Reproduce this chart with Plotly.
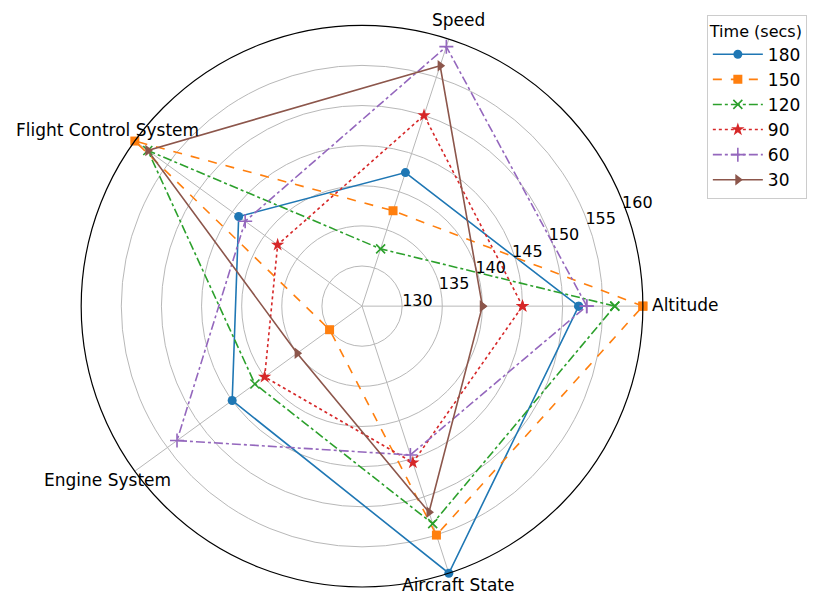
import plotly.graph_objects as go

categories = ["Altitude", "Speed", "Flight Control System", "Engine System", "Aircraft State"]
series_names = ["180", "150", "120", "90", "60", "30"]
values_180 = [152, 142.5, 144, 145, 160]
values_150 = [160, 137.5, 160, 130, 155]
values_120 = [156.5, 132.5, 158, 141.5, 153.5]
values_90 = [145, 150, 138, 140, 145.5]
values_60 = [153, 159, 143, 153.5, 144.5]
values_30 = [140, 156.5, 158, 135, 152]
radial_ticks = [130, 135, 140, 145, 150, 155, 160]

all_values = [values_180, values_150, values_120, values_90, values_60, values_30]
colors = ["#1f77b4", "#ff7f0e", "#2ca02c", "#d62728", "#9467bd", "#8c564b"]
dashes = ["solid", "dash", "dashdot", "dot", "dashdot", "solid"]
symbols = ["circle", "square", "x-thin", "star", "cross-thin", "triangle-right"]
sizes = [9, 9, 9, 10, 10, 10]

fig = go.Figure()
for name, vals, c, d, s, sz in zip(series_names, all_values, colors, dashes, symbols, sizes):
    thin = s.endswith("thin")
    fig.add_trace(go.Scatterpolar(
        r=vals + [vals[0]],
        theta=categories + [categories[0]],
        mode="lines+markers",
        name=name,
        line=dict(color=c, width=1.6, dash=d),
        marker=dict(symbol=s, size=sz, color=c,
                    line=dict(color=c, width=1.6 if thin else 0)),
    ))

# category labels placed like the reference (outside the circle)
label_pos = {
    "Altitude": (651, 305, "left"),
    "Speed": (458, 20, "center"),
    "Flight Control System": (107, 130, "center"),
    "Engine System": (107, 480, "center"),
    "Aircraft State": (458, 585, "center"),
}
W, H = 820, 595
for cat in categories:
    px, py, anchor = label_pos[cat]
    fig.add_annotation(x=px / W, y=1 - py / H, xref="paper", yref="paper",
                       text=cat, showarrow=False, xanchor=anchor, yanchor="middle",
                       borderpad=0, font=dict(size=17, color="black"))

fig.update_layout(
    width=W, height=H,
    margin=dict(l=0, r=0, t=0, b=0),
    paper_bgcolor="white",
    font=dict(family="DejaVu Sans", size=14, color="black"),
    polar=dict(
        domain=dict(x=[0.099, 0.784], y=[0.013, 0.958]),
        bgcolor="white",
        angularaxis=dict(
            rotation=0, direction="counterclockwise",
            showline=True, linecolor="black", linewidth=1.2,
            gridcolor="#b8b8b8", gridwidth=1,
            ticks="", showticklabels=False,
        ),
        radialaxis=dict(
            range=[125, 160], tickvals=radial_ticks,
            ticktext=[str(t) for t in radial_ticks],
            angle=24, tickangle=24, side="clockwise",
            showline=False, ticks="",
            gridcolor="#b8b8b8", gridwidth=1,
            tickfont=dict(size=16),
        ),
    ),
    legend=dict(
        title=dict(text="Time (secs)", font=dict(size=16)),
        x=0.862, y=0.975, xanchor="left", yanchor="top",
        bordercolor="#cccccc", borderwidth=1,
        font=dict(size=17), bgcolor="white",
        tracegroupgap=0, itemwidth=50,
    ),
)

fig.write_html("out.html", config={"displayModeBar": False},
               post_script="document.body.style.margin='0px';")
